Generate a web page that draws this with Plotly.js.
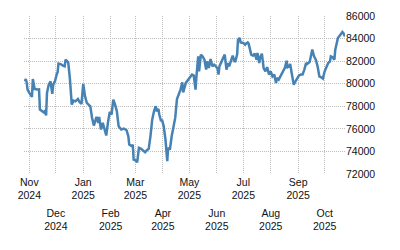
<!DOCTYPE html>
<html>
<head>
<meta charset="utf-8">
<script src="https://cdn.plot.ly/plotly-3.0.1.min.js"></script>
<style>html,body{margin:0;padding:0;background:#fff}#chart{width:400px;height:250px}</style>
</head>
<body>
<div id="chart"></div>
<script>
const dates = [
"2024-10-27","2024-10-28","2024-10-29","2024-10-30","2024-11-01","2024-11-04","2024-11-05","2024-11-07","2024-11-10","2024-11-12",
"2024-11-13","2024-11-16","2024-11-18","2024-11-19","2024-11-20","2024-11-21","2024-11-23","2024-11-25","2024-11-27","2024-11-28",
"2024-11-30","2024-12-02","2024-12-03","2024-12-04","2024-12-07","2024-12-09","2024-12-11","2024-12-12","2024-12-15","2024-12-17",
"2024-12-19","2024-12-21","2024-12-23","2024-12-26","2024-12-28","2024-12-30","2025-01-01","2025-01-03","2025-01-05","2025-01-07",
"2025-01-09","2025-01-11","2025-01-13","2025-01-15","2025-01-16","2025-01-18","2025-01-19","2025-01-21","2025-01-23","2025-01-25",
"2025-01-27","2025-01-29","2025-01-31","2025-02-02","2025-02-04","2025-02-06","2025-02-08","2025-02-10","2025-02-12","2025-02-13",
"2025-02-16","2025-02-19","2025-02-21","2025-02-22","2025-02-25","2025-02-26","2025-02-27","2025-03-01","2025-03-03","2025-03-05",
"2025-03-07","2025-03-09","2025-03-12","2025-03-14","2025-03-16","2025-03-18","2025-03-20","2025-03-22","2025-03-24","2025-03-25",
"2025-03-27","2025-03-28","2025-03-30","2025-03-31","2025-04-02","2025-04-04","2025-04-06","2025-04-07","2025-04-09","2025-04-11",
"2025-04-13","2025-04-15","2025-04-17","2025-04-19","2025-04-21","2025-04-23","2025-04-24","2025-04-27","2025-04-29","2025-05-02",
"2025-05-04","2025-05-06","2025-05-08","2025-05-09","2025-05-11","2025-05-12","2025-05-14","2025-05-16","2025-05-18","2025-05-20",
"2025-05-21","2025-05-23","2025-05-25","2025-05-27","2025-05-29","2025-05-31","2025-06-02","2025-06-03","2025-06-04","2025-06-06",
"2025-06-09","2025-06-10","2025-06-12","2025-06-14","2025-06-15","2025-06-18","2025-06-19","2025-06-21","2025-06-22","2025-06-24",
"2025-06-25","2025-06-27","2025-06-28","2025-07-01","2025-07-03","2025-07-04","2025-07-06","2025-07-07","2025-07-10","2025-07-12",
"2025-07-14","2025-07-16","2025-07-17","2025-07-19","2025-07-20","2025-07-22","2025-07-24","2025-07-26","2025-07-28","2025-07-30",
"2025-08-01","2025-08-03","2025-08-05","2025-08-07","2025-08-08","2025-08-10","2025-08-12","2025-08-14","2025-08-17","2025-08-19",
"2025-08-20","2025-08-22","2025-08-23","2025-08-25","2025-08-27","2025-08-29","2025-08-31","2025-09-02","2025-09-04","2025-09-06",
"2025-09-08","2025-09-10","2025-09-11","2025-09-14","2025-09-15","2025-09-17","2025-09-19","2025-09-21","2025-09-23","2025-09-25",
"2025-09-27","2025-09-29","2025-10-01","2025-10-03","2025-10-05","2025-10-07","2025-10-08","2025-10-10","2025-10-12","2025-10-13",
"2025-10-15","2025-10-16","2025-10-19","2025-10-21","2025-10-22","2025-10-24"
];
const values = [
80210,80420,80120,79480,79190,78830,80420,79540,79480,79500,
77710,77530,77420,77650,77180,79190,79920,80210,79100,79920,
80210,80830,81010,81780,81720,81600,81540,82130,81890,80360,
78150,78500,78440,78650,78350,78210,79980,78880,78300,78150,
78000,76970,76290,76820,77060,76530,77060,75940,76530,76000,
75410,76600,77490,77270,78590,78150,77560,76230,76090,75940,
76030,75880,75340,74610,74460,74610,73280,73220,73040,74320,
74260,74110,73930,74110,74230,75340,76820,77560,78000,77560,
77770,77270,76670,76820,76230,75050,73130,74320,74170,75340,
76230,76970,78650,79030,79480,80120,79240,80070,80300,80600,
80810,80720,79480,80650,82420,81100,82580,82420,82130,81250,
81980,81400,82190,81540,81690,81540,81310,80810,81540,81890,
82490,82580,81250,81840,81540,82280,82490,81980,81980,82580,
83900,84050,83660,83610,83460,83550,83660,83550,82580,82490,
82660,82130,82730,81840,82310,82660,81380,81100,81470,80810,
81100,80650,80810,80070,80510,80360,80650,80960,81400,82040,
81450,81540,81750,80810,79920,80210,80510,80740,80810,80810,
81250,81840,81750,81930,82280,83020,82420,82130,81540,80650,
80570,80450,81100,81400,81840,81980,82420,82340,82130,83020,
83610,84050,84350,84580,84500,84190
];
const oddMonths = ["2024-11-01","2025-01-01","2025-03-01","2025-05-01","2025-07-01","2025-09-01"];
const oddLabels = ["Nov<br>2024","Jan<br>2025","Mar<br>2025","May<br>2025","Jul<br>2025","Sep<br>2025"];
const evenMonths = ["2024-12-01","2025-02-01","2025-04-01","2025-06-01","2025-08-01","2025-10-01"];
const evenLabels = ["Dec<br>2024","Feb<br>2025","Apr<br>2025","Jun<br>2025","Aug<br>2025","Oct<br>2025"];
const yTicks = [72000,74000,76000,78000,80000,82000,84000,86000];

const allMonths = oddMonths.concat(evenMonths).sort();
const allText = allMonths.map(m => { const i = oddMonths.indexOf(m); return i >= 0 ? oddLabels[i] : ""; });

const xRange = ["2024-10-26","2025-10-24"];
const font = {family: "Liberation Sans, Arial, sans-serif", size: 10.5, color: "#111"};
const gridDash = "1px,1px";

const data = [{
  x: dates, y: values, type: "scatter", mode: "lines",
  line: {color: "#4682b4", width: 2.5}, hoverinfo: "skip"
}, {
  x: dates, y: values, type: "scatter", mode: "lines", xaxis: "x2",
  line: {color: "rgba(0,0,0,0)", width: 0}, opacity: 0, hoverinfo: "skip"
}];
const layout = {
  width: 400, height: 250,
  margin: {l: 24, r: 55, t: 16, b: 76},
  paper_bgcolor: "#fff", plot_bgcolor: "#fff",
  showlegend: false,
  font: font,
  xaxis: {
    type: "date", range: xRange, tickmode: "array", tickvals: allMonths, ticktext: allText,
    showgrid: true, gridcolor: "#bdbdbd", griddash: gridDash, gridwidth: 1,
    zeroline: false, showline: false, ticks: "", tickangle: 0, tickfont: font
  },
  xaxis2: {
    type: "date", range: xRange, overlaying: "x", side: "bottom", anchor: "y",
    tickmode: "array", tickvals: evenMonths, ticktext: evenLabels,
    showgrid: false, zeroline: false, showline: false, ticks: "", tickangle: 0,
    ticklabelstandoff: 31, tickfont: font
  },
  yaxis: {
    side: "right", range: [72000, 86000], tickmode: "array", tickvals: yTicks,
    ticktext: yTicks.map(String),
    showgrid: true, gridcolor: "#bdbdbd", griddash: gridDash, gridwidth: 1,
    zeroline: false, showline: false, ticks: "", tickfont: font
  }
};
Plotly.newPlot("chart", data, layout, {staticPlot: true, displayModeBar: false});
</script>
</body>
</html>
